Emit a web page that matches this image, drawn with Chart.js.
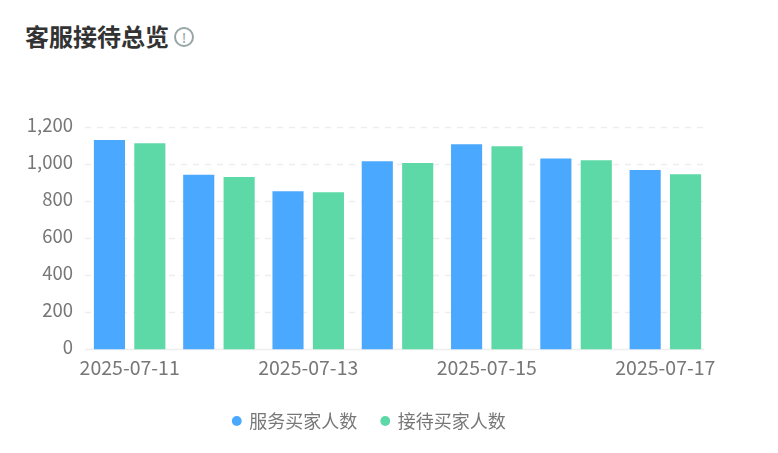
<!DOCTYPE html>
<html><head><meta charset="utf-8">
<script src="https://cdn.jsdelivr.net/npm/chart.js@4/dist/chart.umd.min.js"></script>
<style>
html,body{margin:0;padding:0;background:#fff;overflow:hidden}
#wrap{position:relative;width:778px;height:453px;overflow:hidden}
#title{position:absolute;left:25px;top:18px;font:bold 24px/36px "Noto Sans CJK SC",sans-serif;color:#333;white-space:nowrap}
#info{position:absolute;left:174px;top:27px;width:20px;height:20px;box-sizing:border-box;border:2px solid #97a5a5;border-radius:50%;color:#97a5a5;font:normal 15px/16px "Noto Sans",sans-serif;text-align:center}
#c{position:absolute;left:0;top:0}
</style></head><body>
<div id="wrap">
<div id="title">客服接待总览</div><div id="info">!</div>
<canvas id="c" width="740" height="453" style="width:740px;height:453px"></canvas>
</div>
<script>
const categories=["2025-07-11","2025-07-12","2025-07-13","2025-07-14","2025-07-15","2025-07-16","2025-07-17"];
const serviceBuyers=[1132,945,855,1018,1110,1032,970];
const receptionBuyers=[1115,933,850,1008,1098,1023,947];
const seriesNames=["服务买家人数","接待买家人数"];
const yTicks=[0,200,400,600,800,1000,1200];
const FONT='"Noto Sans CJK SC",sans-serif';
const gridPlugin={id:'gridPlugin',
 beforeDraw(ch){ch.scales.y.left=0;},
 beforeDatasetsDraw(ch){
  const {ctx,chartArea:a,scales:{y}}=ch;
  ctx.save();ctx.strokeStyle='#eeeeee';ctx.lineWidth=1.5;
  yTicks.forEach(v=>{
    const p=y.getPixelForValue(v);
    ctx.setLineDash(v===0?[]:[6,6]);
    ctx.beginPath();ctx.moveTo(a.left,p);ctx.lineTo(a.right-6,p);ctx.stroke();
  });
  ctx.restore();
}};
new Chart(document.getElementById('c'),{
  type:'bar',
  data:{labels:categories,datasets:[
    {label:seriesNames[0],data:serviceBuyers,backgroundColor:'#4ba8ff'},
    {label:seriesNames[1],data:receptionBuyers,backgroundColor:'#5cd9a6'}
  ]},
  plugins:[gridPlugin],
  options:{
    responsive:false,animation:false,
    layout:{padding:{top:127.5,right:30,left:29,bottom:13}},
    datasets:{bar:{categoryPercentage:0.905,barPercentage:0.77}},
    plugins:{
      tooltip:{enabled:false},
      legend:{position:'bottom',align:'center',labels:{usePointStyle:true,pointStyle:'circle',boxWidth:7,boxHeight:7,padding:24.5,color:'#777',font:{family:FONT,size:18}}}
    },
    scales:{
      x:{grid:{display:false},border:{display:false},
         afterFit(s){s.height=38},
         ticks:{autoSkip:false,maxRotation:0,minRotation:0,padding:-2,color:'#777',font:{family:FONT,size:19.5},
           callback(v,i){return i%2===0?categories[i]:''}}},
      y:{min:0,max:1200,grid:{display:false},border:{display:false},
         afterFit(s){s.width=56},
         ticks:{stepSize:200,padding:4,labelOffset:-2.5,color:'#777',font:{family:FONT,size:18.5},
           callback(v){return v.toLocaleString('en-US')}}}
    }
  }
});
</script></body></html>
